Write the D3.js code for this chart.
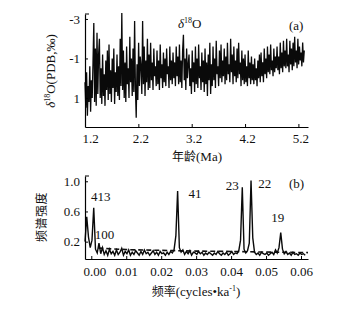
<!DOCTYPE html>
<html>
<head>
<meta charset="utf-8">
<script src="https://cdn.jsdelivr.net/npm/d3@7/dist/d3.min.js"></script>
<style>
  html, body { margin: 0; padding: 0; background: #fff; }
  svg { display: block; }
  .tick text { font-family: "Liberation Serif", "DejaVu Serif", serif; font-size: 13px; fill: #111; }
</style>
</head>
<body>
<svg id="chart" width="355" height="312"></svg>
<script>
// ---------- Data: panel (a) δ18O record ----------
const ageStart = 1.2;     // Ma
const ageStep = 0.015;    // Ma between samples
const d18O = [
  0.2, 1.5, -0.3, 1.9, 0.4, 1.2, -0.6, 1.7, 0.1, 1.0,
  -0.8, -2.8, 1.2, -1.5, 1.4, -2.3, 0.8, -1.2, -2.0, 1.0,
  -0.5, 1.3, -1.2, 0.9, -0.2, 1.4, -0.9, 0.6, -1.4, 1.1,
  -1.7, 0.8, -0.4, 1.2, -1.0, 0.5, -1.5, 1.3, -0.3, 0.7,
  -1.2, 0.9, -0.6, 1.1, -2.0, 0.4, -3.3, 0.6, -1.4, 1.0,
  -0.8, 1.2, -1.6, 0.3, -0.5, 1.0, -2.1, 0.2, -1.0, 0.9,
  -1.5, 0.7, -2.9, 0.5, 2.0, -0.7, 1.1, -1.8, 0.4, -1.1,
  -0.6, 0.8, -2.9, 0.3, -1.6, 0.9, -0.9, 0.2, -2.0, 0.6,
  -1.2, 0.5, -1.8, 0.1, -0.8, 0.6, -1.5, -0.1, -0.6, 0.4,
  -1.4, 0.3, -0.9, 0.6, -1.7, 0.0, -0.7, 0.5, -1.3, 0.2,
  -1.0, 0.4, -1.5, -0.2, -0.6, 0.5, -1.6, 0.1, -0.9, 0.3,
  -1.3, 0.0, -0.8, 0.4, -1.6, -0.1, -1.1, 0.3, -1.7, 0.2,
  -0.9, 0.5, -1.4, -2.2, 0.1, -1.0, 0.6, -1.5, 0.0, -0.7,
  -1.2, 0.4, -0.5, 0.8, -1.4, 0.2, -0.8, 0.7, -1.6, 0.3,
  -1.0, 0.5, -1.7, 0.0, -0.6, 0.6, -1.3, 0.2, -0.9, 0.7,
  -1.5, 0.3, -0.8, 0.9, -1.2, 0.1, -1.8, 0.8, -0.7, 0.4,
  -1.6, 0.1, -1.0, 0.5, -1.9, -0.2, -0.6, 0.4, -1.4, 0.0,
  -1.7, 0.2, -0.9, -0.1, -1.5, 0.3, -1.1, 0.1, -1.8, -0.2,
  -0.7, 0.2, -2.0, -0.3, -1.2, 0.3, -1.6, -0.1, -0.9, 0.2,
  -1.5, 0.0, -1.8, -0.2, -0.8, 0.4, -1.4, 0.1, -1.0, 0.3,
  -1.2, 0.2, -0.6, 0.4, -1.4, 0.0, -0.8, 0.3, -1.1, 0.1,
  -0.7, 0.3, -1.0, 0.1, -0.5, 0.4, -0.9, 0.0, -1.2, 0.2,
  -1.3, -0.1, -0.8, 0.2, -1.5, -0.2, -1.0, 0.0, -1.6, -0.3,
  -1.2, -0.2, -1.7, -0.4, -0.9, -0.1, -1.5, -0.3, -1.1, -0.5,
  -1.6, -0.4, -1.1, -0.2, -1.8, -0.5, -1.3, -0.3, -1.9, -0.6,
  -1.4, -0.5, -2.0, -0.6, -1.2, -0.3, -1.9, -0.7, -1.5, -0.4,
  -1.8, -0.6, -2.1, -0.8, -1.4, -0.5, -2.0, -0.7, -1.6, -0.9,
  -1.3, -0.6, -1.8, -0.8, -1.4
];
const ageTicks = [1.2, 2.2, 3.2, 4.2, 5.2];
const d18OTicks = [-3, -1, 1];

// ---------- Data: panel (b) power spectrum ----------
const freqStart = -0.0018;  // cycles/ka
const freqStep = 0.0005;
const power = [
  0.20, 0.53, 0.26, 0.12, 0.22, 0.65, 0.10, 0.05, 0.18, 0.04,
  0.12, 0.03, 0.08, 0.02, 0.10, 0.04, 0.07, 0.02, 0.09, 0.03,
  0.06, 0.11, 0.02, 0.07, 0.04, 0.09, 0.02, 0.06, 0.03, 0.08,
  0.05, 0.02, 0.07, 0.03, 0.09, 0.04, 0.06, 0.02, 0.05, 0.08,
  0.03, 0.06, 0.02, 0.07, 0.04, 0.05, 0.02, 0.06, 0.03, 0.07,
  0.05, 0.10, 0.28, 0.87, 0.12, 0.06, 0.09, 0.03, 0.07, 0.04,
  0.08, 0.02, 0.06, 0.05, 0.03, 0.07, 0.04, 0.06, 0.02, 0.05,
  0.03, 0.06, 0.04, 0.02, 0.05, 0.03, 0.07, 0.04, 0.02, 0.05,
  0.03, 0.06, 0.02, 0.04, 0.07, 0.03, 0.05, 0.04, 0.08, 0.22,
  0.92, 0.10, 0.05, 0.08, 0.18, 1.01, 0.25, 0.06, 0.03, 0.05,
  0.02, 0.06, 0.04, 0.03, 0.05, 0.02, 0.04, 0.06, 0.03, 0.09,
  0.05, 0.12, 0.32, 0.10, 0.04, 0.07, 0.03, 0.05, 0.02, 0.06,
  0.03, 0.04, 0.02, 0.05, 0.03, 0.04, 0.02
];
const confFreq = [0.002, 0.01, 0.02, 0.03, 0.04, 0.05, 0.062];
const confLevel = [0.115, 0.095, 0.085, 0.075, 0.07, 0.062, 0.055];
const freqTicks = [0.00, 0.01, 0.02, 0.03, 0.04, 0.05, 0.06];
const powerTicks = [0.2, 0.6, 1.0];
const peakLabels = [
  { text: "413", f: -0.0001, p: 0.74 },
  { text: "100", f: 0.0010, p: 0.24 },
  { text: "41",  f: 0.0278, p: 0.78 },
  { text: "23",  f: 0.0385, p: 0.88 },
  { text: "22",  f: 0.0478, p: 0.91 },
  { text: "19",  f: 0.0515, p: 0.46 }
];

// ---------- Drawing ----------
const svg = d3.select("#chart");
const serif = '"Liberation Serif", "DejaVu Serif", serif';
const cjk = '"Noto Sans CJK SC", "Noto Sans", sans-serif';

// Panel (a)
const xa = d3.scaleLinear().domain([1.2, 5.38]).range([85, 308]);
const ya = d3.scaleLinear().domain([-3.25, 2.47]).range([14, 127]);

const ga = svg.append("g");
const lineA = d3.line()
  .x((d, i) => xa(ageStart + i * ageStep))
  .y(d => ya(d));
ga.append("path").datum(d18O)
  .attr("d", lineA)
  .attr("fill", "none")
  .attr("stroke", "#0a0a0a")
  .attr("stroke-width", 1.3)
  .attr("stroke-linejoin", "miter");

const axA_x = ga.append("g").attr("transform", "translate(0,127)")
  .call(d3.axisBottom(xa).tickValues(ageTicks).tickFormat(d3.format(".1f"))
    .tickSizeInner(-3).tickSizeOuter(0).tickPadding(7));
axA_x.selectAll("text").attr("dx", (d, i) => i === 0 ? 5 : 2);
const axA_y = ga.append("g").attr("transform", "translate(85,0)")
  .call(d3.axisLeft(ya).tickValues(d18OTicks).tickFormat(d => String(d))
    .tickSizeInner(-3).tickSizeOuter(0).tickPadding(5));
axA_y.append("line").attr("x1", 0).attr("x2", 4).attr("y1", 14).attr("y2", 14).attr("stroke", "#000");
ga.selectAll(".domain").attr("stroke", "#000").attr("stroke-width", 1.2);

// y title (a)
const yt = ga.append("text")
  .attr("transform", "translate(55,71) rotate(-90)")
  .attr("text-anchor", "middle")
  .attr("font-family", serif).attr("font-size", 13).attr("fill", "#111");
yt.append("tspan").attr("font-style", "italic").text("δ");
yt.append("tspan").attr("font-size", 8).attr("dy", -5).text("18");
yt.append("tspan").attr("dy", 5).text("O(PDB,‰)");

// in-panel labels (a)
const dl = ga.append("text").attr("x", 178).attr("y", 28)
  .attr("font-family", serif).attr("font-size", 13).attr("fill", "#111");
dl.append("tspan").attr("font-style", "italic").text("δ");
dl.append("tspan").attr("font-size", 8).attr("dy", -5).text("18");
dl.append("tspan").attr("dy", 5).text("O");
ga.append("text").attr("x", 289).attr("y", 30)
  .attr("font-family", serif).attr("font-size", 13).attr("fill", "#111").text("(a)");

// x title (a)
const xt = ga.append("text").attr("x", 197).attr("y", 161).attr("text-anchor", "middle")
  .attr("font-size", 13).attr("fill", "#111");
xt.append("tspan").attr("font-family", cjk).attr("font-size", 12).text("年龄");
xt.append("tspan").attr("font-family", serif).text("(Ma)");

// Panel (b)
const xb = d3.scaleLinear().domain([-0.0018, 0.0620]).range([85, 308]);
const yb = d3.scaleLinear().domain([-0.03, 1.07]).range([259, 176]);
const gb = svg.append("g");

const confLine = d3.line().x((d, i) => xb(confFreq[i])).y(d => yb(d)).curve(d3.curveMonotoneX);
gb.append("path").datum(confLevel)
  .attr("d", confLine)
  .attr("fill", "none").attr("stroke", "#111")
  .attr("stroke-width", 1.6).attr("stroke-dasharray", "5,3");

const specLine = d3.line()
  .x((d, i) => xb(freqStart + i * freqStep))
  .y(d => yb(d));
gb.append("path").datum(power)
  .attr("d", specLine)
  .attr("fill", "none").attr("stroke", "#0a0a0a").attr("stroke-width", 1.4);

const axB_x = gb.append("g").attr("transform", "translate(0,259)")
  .call(d3.axisBottom(xb).tickValues(freqTicks).tickFormat(d3.format(".2f"))
    .tickSizeInner(-3).tickSizeOuter(0).tickPadding(8));
axB_x.selectAll("text").attr("dx", (d, i) => i === 0 ? 3 : 0);
const axB_y = gb.append("g").attr("transform", "translate(85,0)")
  .call(d3.axisLeft(yb).tickValues(powerTicks).tickFormat(d3.format(".1f"))
    .tickSizeInner(-3).tickSizeOuter(0).tickPadding(5));
axB_y.append("line").attr("x1", 0).attr("x2", 4).attr("y1", 176).attr("y2", 176).attr("stroke", "#000");
gb.selectAll(".domain").attr("stroke", "#000").attr("stroke-width", 1.2);

gb.selectAll("text.peak").data(peakLabels).enter().append("text")
  .attr("class", "peak")
  .attr("x", d => xb(d.f)).attr("y", d => yb(d.p))
  .attr("font-family", serif).attr("font-size", 13).attr("fill", "#111")
  .text(d => d.text);
gb.append("text").attr("x", 289).attr("y", 188)
  .attr("font-family", serif).attr("font-size", 13).attr("fill", "#111").text("(b)");

// y title (b)
gb.append("text")
  .attr("transform", "translate(46,217) rotate(-90)")
  .attr("text-anchor", "middle")
  .attr("font-family", cjk).attr("font-size", 12).attr("fill", "#111")
  .attr("letter-spacing", 0.5)
  .text("频谱强度");

// x title (b)
const xtb = gb.append("text").attr("x", 196).attr("y", 296).attr("text-anchor", "middle")
  .attr("font-size", 13).attr("fill", "#111");
xtb.append("tspan").attr("font-family", cjk).attr("font-size", 12).text("频率");
xtb.append("tspan").attr("font-family", serif).text("(cycles");
xtb.append("tspan").attr("font-family", serif).text("•");
xtb.append("tspan").attr("font-family", serif).text("ka");
xtb.append("tspan").attr("font-family", serif).attr("font-size", 8).attr("dy", -5).text("-1");
xtb.append("tspan").attr("font-family", serif).attr("dy", 5).text(")");
</script>
</body>
</html>
